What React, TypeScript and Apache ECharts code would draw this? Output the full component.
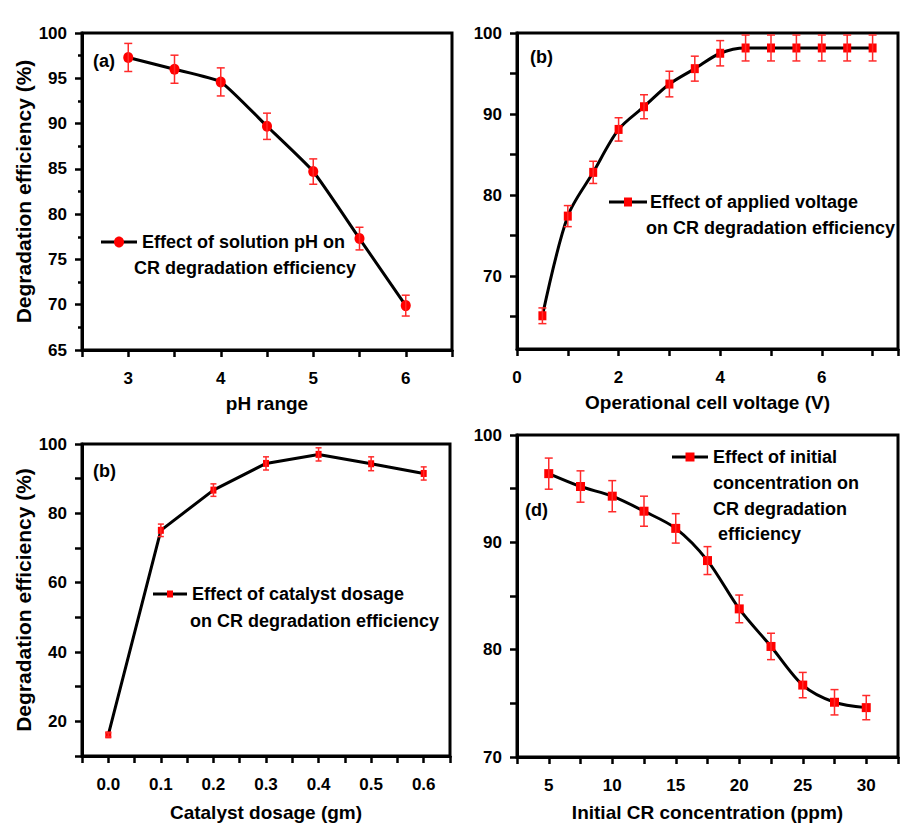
import React, { useEffect, useRef } from "react";
import * as echarts from "echarts";

// ---------- data ----------
const phValues = [3, 3.5, 4, 4.5, 5, 5.5, 6];
const phEff = [97.3, 96.0, 94.6, 89.7, 84.7, 77.3, 69.9];
const phErr = [1.55, 1.55, 1.55, 1.45, 1.4, 1.25, 1.15];

const voltValues = [0.5, 1, 1.5, 2, 2.5, 3, 3.5, 4, 4.5, 5, 5.5, 6, 6.5, 7];
const voltEff = [65.1, 77.4, 82.8, 88.1, 90.9, 93.7, 95.6, 97.5, 98.15, 98.15, 98.15, 98.15, 98.15, 98.15];
const voltErr = [0.97, 1.3, 1.37, 1.44, 1.48, 1.58, 1.54, 1.56, 1.6, 1.6, 1.6, 1.6, 1.6, 1.6];

const doseValues = [0, 0.1, 0.2, 0.3, 0.4, 0.5, 0.6];
const doseEff = [16.1, 75.1, 86.7, 94.4, 97.0, 94.3, 91.5];
const doseErr = [0.6, 1.8, 1.8, 1.9, 1.9, 2.0, 1.9];

const concValues = [5, 7.5, 10, 12.5, 15, 17.5, 20, 22.5, 25, 27.5, 30];
const concEff = [96.4, 95.2, 94.3, 92.9, 91.3, 88.3, 83.8, 80.3, 76.7, 75.1, 74.6];
const concErr = [1.45, 1.46, 1.45, 1.4, 1.37, 1.3, 1.29, 1.23, 1.18, 1.18, 1.13];

const phTickLabels = [3, 4, 5, 6];
const voltTickLabels = [0, 2, 4, 6];
const doseTickLabels = [0, 0.1, 0.2, 0.3, 0.4, 0.5, 0.6];
const concTickLabels = [5, 10, 15, 20, 25, 30];
const yLabelsA = [65, 70, 75, 80, 85, 90, 95, 100];
const yLabelsB = [70, 80, 90, 100];
const yTicksB = [65, 70, 75, 80, 85, 90, 95, 100];
const yLabelsC = [20, 40, 60, 80, 100];
const yLabelsD = [70, 80, 90, 100];

const legendA = ["Effect of solution pH on", "CR degradation efficiency"];
const legendB = ["Effect of applied voltage", "on CR degradation efficiency"];
const legendC = ["Effect of catalyst dosage", "on CR degradation efficiency"];
const legendD = ["Effect of initial", "concentration on", "CR degradation", " efficiency"];

const yTitle = "Degradation efficiency (%)";

// ---------- styles ----------
const FONT = "'Liberation Sans', Arial, Helvetica, sans-serif";
const RED = "#ff0000";
const ERR_RED = "#ff2a2a";

const has = (list: number[], v: number) => list.some((x) => Math.abs(x - v) < 1e-6);

function fmt(list: number[], digits: number) {
  return (v: number) => (has(list, v) ? (digits > 0 ? v.toFixed(digits) : String(Math.round(v))) : "");
}

function makeX(idx: number, min: number, max: number, interval: number, labels: number[], digits: number, name: string, nameGap: number) {
  return {
    type: "value",
    gridIndex: idx,
    min,
    max,
    interval,
    name,
    nameLocation: "middle",
    nameGap,
    nameTextStyle: { fontSize: 19, fontWeight: "bold", color: "#000", fontFamily: FONT },
    axisLine: { show: true, onZero: false, lineStyle: { color: "#000", width: 3 } },
    axisTick: { show: true, inside: false, length: 7, lineStyle: { color: "#000", width: 2.5 } },
    axisLabel: {
      margin: 20,
      fontSize: 17,
      fontWeight: "bold",
      color: "#000",
      fontFamily: FONT,
      formatter: fmt(labels, digits),
      showMinLabel: true,
      showMaxLabel: true,
    },
    splitLine: { show: false },
  } as any;
}

function makeY(idx: number, min: number, max: number, interval: number | undefined, labels: number[], name: string) {
  const ax: any = {
    type: "value",
    gridIndex: idx,
    min,
    max,
    name,
    nameLocation: "middle",
    nameGap: 48,
    nameTextStyle: { fontSize: 21, fontWeight: "bold", color: "#000", fontFamily: FONT },
    axisLine: { show: true, onZero: false, lineStyle: { color: "#000", width: 3 } },
    axisTick: { show: true, inside: false, length: 7, lineStyle: { color: "#000", width: 2.5 } },
    axisLabel: {
      margin: 15,
      fontSize: 17,
      fontWeight: "bold",
      color: "#000",
      fontFamily: FONT,
      formatter: fmt(labels, 0),
      showMinLabel: true,
      showMaxLabel: true,
    },
    splitLine: { show: false },
  };
  if (interval !== undefined) ax.interval = interval;
  return ax;
}

function lineSeries(idx: number, xs: number[], ys: number[], symbol: string, size: number[], smooth: number | boolean) {
  return {
    type: "line",
    xAxisIndex: idx,
    yAxisIndex: idx,
    data: xs.map((x, i) => [x, ys[i]]),
    symbol,
    symbolSize: size,
    smooth,
    z: 2,
    itemStyle: { color: RED, borderWidth: 0 },
    lineStyle: { color: "#000", width: 3 },
    silent: true,
  };
}

function errorSeries(idx: number, xs: number[], ys: number[], errs: number[], cap: number) {
  return {
    type: "custom",
    xAxisIndex: idx,
    yAxisIndex: idx,
    z: 3,
    silent: true,
    clip: false,
    data: xs.map((x, i) => [x, ys[i] - errs[i], ys[i] + errs[i]]),
    renderItem: (_params: any, api: any) => {
      const lo = api.coord([api.value(0), api.value(1)]);
      const hi = api.coord([api.value(0), api.value(2)]);
      const style = { stroke: ERR_RED, lineWidth: 1.5 };
      return {
        type: "group",
        children: [
          { type: "line", shape: { x1: lo[0], y1: lo[1], x2: hi[0], y2: hi[1] }, style },
          { type: "line", shape: { x1: lo[0] - cap / 2, y1: lo[1], x2: lo[0] + cap / 2, y2: lo[1] }, style },
          { type: "line", shape: { x1: hi[0] - cap / 2, y1: hi[1], x2: hi[0] + cap / 2, y2: hi[1] }, style },
        ],
      };
    },
  };
}

function txt(x: number, y: number, text: string, size = 18) {
  return {
    type: "text",
    x,
    y,
    style: {
      text,
      fill: "#000",
      font: `bold ${size}px ${FONT}`,
      textVerticalAlign: "middle",
      verticalAlign: "middle",
      align: "left",
    },
    z: 10,
  };
}

function legendGraphic(x1: number, x2: number, y: number, marker: "circle" | "rect", mw: number, mh: number, lines: string[], textXs: number[], lineH: number) {
  const cx = (x1 + x2) / 2;
  const items: any[] = [
    { type: "line", shape: { x1, y1: y, x2, y2: y }, style: { stroke: "#000", lineWidth: 3 }, z: 10 },
    marker === "circle"
      ? { type: "ellipse", shape: { cx, cy: y, rx: mw / 2, ry: mh / 2 }, style: { fill: RED }, z: 11 }
      : { type: "rect", shape: { x: cx - mw / 2, y: y - mh / 2, width: mw, height: mh }, style: { fill: RED }, z: 11 },
  ];
  lines.forEach((t, i) => items.push(txt(textXs[i], y + i * lineH, t)));
  return items;
}

export default function App() {
  const ref = useRef<HTMLDivElement>(null);

  useEffect(() => {
    document.body.style.margin = "0";
    if (!ref.current) return;
    const chart = echarts.init(ref.current, undefined, { renderer: "svg" });

    const gridBase = { show: true, borderColor: "#000", borderWidth: 3, backgroundColor: "transparent", containLabel: false };

    const yB = makeY(1, 61, 100, undefined, yLabelsB, "");
    yB.axisTick.customValues = yTicksB;
    yB.axisLabel.customValues = yLabelsB;

    const yA = makeY(0, 65, 100, 5, yLabelsA, yTitle);
    yA.minorTick = { show: true, splitNumber: 2, length: 4, lineStyle: { color: "#000", width: 2.5 } };

    const option: any = {
      animation: false,
      backgroundColor: "#fff",
      grid: [
        { ...gridBase, left: 82, top: 33, width: 370, height: 317 },
        { ...gridBase, left: 517, top: 33, right: -7, height: 316 },
        { ...gridBase, left: 82, top: 444, width: 368, height: 312 },
        { ...gridBase, left: 517, top: 435, right: -7, height: 322 },
      ],
      xAxis: [
        makeX(0, 2.5, 6.5, 0.5, phTickLabels, 0, "pH range", 44),
        makeX(1, 0, 7.5, 1, voltTickLabels, 0, "Operational cell voltage (V)", 44),
        makeX(2, -0.05, 0.65, 0.05, doseTickLabels, 1, "Catalyst dosage (gm)", 47),
        makeX(3, 2.5, 32.5, 2.5, concTickLabels, 0, "Initial CR concentration (ppm)", 46),
      ],
      yAxis: [
        yA,
        yB,
        makeY(2, 10, 100, 10, yLabelsC, yTitle),
        makeY(3, 70, 100, 5, yLabelsD, ""),
      ],
      series: [
        lineSeries(0, phValues, phEff, "circle", [10, 11], 0.15),
        errorSeries(0, phValues, phEff, phErr, 8),
        lineSeries(1, voltValues, voltEff, "rect", [8, 9], 0.3),
        errorSeries(1, voltValues, voltEff, voltErr, 8),
        lineSeries(2, doseValues, doseEff, "rect", [6, 7], false),
        errorSeries(2, doseValues, doseEff, doseErr, 6),
        lineSeries(3, concValues, concEff, "rect", [9, 9], 0.3),
        errorSeries(3, concValues, concEff, concErr, 8),
      ],
      graphic: [
        txt(93, 61, "(a)"),
        txt(530, 57, "(b)"),
        txt(93, 471, "(b)"),
        txt(525, 510, "(d)"),
        ...legendGraphic(101, 137, 242, "circle", 10, 11, legendA, [142, 134], 26),
        ...legendGraphic(609, 647, 202, "rect", 8, 9, legendB, [650, 646], 26),
        ...legendGraphic(153, 187, 594, "rect", 6, 7, legendC, [192, 190], 27),
        ...legendGraphic(672, 708, 457, "rect", 9, 9, legendD, [713, 713, 713, 713], 25.8),
      ],
    };

    chart.setOption(option);
    return () => chart.dispose();
  }, []);

  return <div ref={ref} style={{ width: 901, height: 827, background: "#fff" }} />;
}
